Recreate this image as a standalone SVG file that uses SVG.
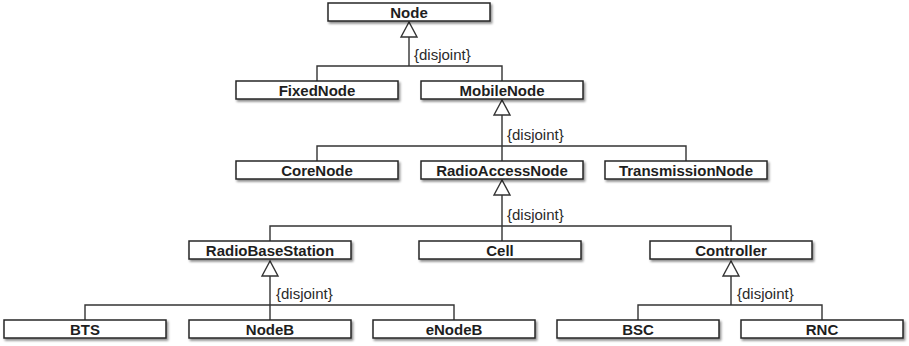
<svg xmlns="http://www.w3.org/2000/svg" width="909" height="346" viewBox="0 0 909 346">
  <style>
    .box { fill: #ffffff; stroke: #262626; stroke-width: 1.5; }
    .name { font-family: "Liberation Sans", Arial, sans-serif; font-weight: bold; font-size: 15px; fill: #1e1e1e; text-anchor: middle; }
    .line { fill: none; stroke: #333333; stroke-width: 1.4; }
    .tri { fill: #ffffff; stroke: #333333; stroke-width: 1.4; stroke-linejoin: miter; }
    .note { font-family: "Liberation Sans", Arial, sans-serif; font-size: 15px; fill: #2a2a2a; }
  </style>
  <defs>
    <filter id="shadow" x="-10%" y="-40%" width="120%" height="190%">
      <feDropShadow dx="1.5" dy="2" stdDeviation="1.3" flood-color="#000000" flood-opacity="0.45"/>
    </filter>
  </defs>

  <!-- generalization connectors -->
  <g id="connectors">
    <!-- Node -> FixedNode, MobileNode -->
    <path class="line" d="M409 37 V66 M317 81 V66 H502 V81"/>
    <polygon class="tri" points="409,22 401,37 417,37"/>
    <text class="note" x="414" y="60">{disjoint}</text>

    <!-- MobileNode -> CoreNode, RadioAccessNode, TransmissionNode -->
    <path class="line" d="M502 115 V161 M317 161 V146 H686 V161"/>
    <polygon class="tri" points="502,100 494,115 510,115"/>
    <text class="note" x="507" y="140">{disjoint}</text>

    <!-- RadioAccessNode -> RadioBaseStation, Cell, Controller -->
    <path class="line" d="M502 195 V241 M270 241 V226 H731 V241"/>
    <polygon class="tri" points="502,180 494,195 510,195"/>
    <text class="note" x="507" y="220">{disjoint}</text>

    <!-- RadioBaseStation -> BTS, NodeB, eNodeB -->
    <path class="line" d="M270 276 V320 M85 320 V305 H454 V320"/>
    <polygon class="tri" points="270,261 262,276 278,276"/>
    <text class="note" x="276" y="299">{disjoint}</text>

    <!-- Controller -> BSC, RNC -->
    <path class="line" d="M731 276 V305 M638 320 V305 H822 V320"/>
    <polygon class="tri" points="731,261 723,276 739,276"/>
    <text class="note" x="737" y="299">{disjoint}</text>
  </g>

  <g id="node-Node">
    <rect class="box" x="328" y="3" width="162" height="18" filter="url(#shadow)"/>
    <text class="name" x="409" y="17.5">Node</text>
  </g>
  <g id="node-FixedNode">
    <rect class="box" x="236" y="81" width="162" height="18" filter="url(#shadow)"/>
    <text class="name" x="317" y="95.5">FixedNode</text>
  </g>
  <g id="node-MobileNode">
    <rect class="box" x="421" y="81" width="162" height="18" filter="url(#shadow)"/>
    <text class="name" x="502" y="95.5">MobileNode</text>
  </g>
  <g id="node-CoreNode">
    <rect class="box" x="236" y="161" width="162" height="18" filter="url(#shadow)"/>
    <text class="name" x="317" y="175.5">CoreNode</text>
  </g>
  <g id="node-RadioAccessNode">
    <rect class="box" x="421" y="161" width="162" height="18" filter="url(#shadow)"/>
    <text class="name" x="502" y="175.5">RadioAccessNode</text>
  </g>
  <g id="node-TransmissionNode">
    <rect class="box" x="605" y="161" width="162" height="18" filter="url(#shadow)"/>
    <text class="name" x="686" y="175.5">TransmissionNode</text>
  </g>
  <g id="node-RadioBaseStation">
    <rect class="box" x="189" y="241" width="162" height="18" filter="url(#shadow)"/>
    <text class="name" x="270" y="255.5">RadioBaseStation</text>
  </g>
  <g id="node-Cell">
    <rect class="box" x="419" y="241" width="162" height="18" filter="url(#shadow)"/>
    <text class="name" x="500" y="255.5">Cell</text>
  </g>
  <g id="node-Controller">
    <rect class="box" x="650" y="241" width="162" height="18" filter="url(#shadow)"/>
    <text class="name" x="731" y="255.5">Controller</text>
  </g>
  <g id="node-BTS">
    <rect class="box" x="4" y="320" width="162" height="18" filter="url(#shadow)"/>
    <text class="name" x="85" y="334.5">BTS</text>
  </g>
  <g id="node-NodeB">
    <rect class="box" x="189" y="320" width="162" height="18" filter="url(#shadow)"/>
    <text class="name" x="270" y="334.5">NodeB</text>
  </g>
  <g id="node-eNodeB">
    <rect class="box" x="373" y="320" width="162" height="18" filter="url(#shadow)"/>
    <text class="name" x="454" y="334.5">eNodeB</text>
  </g>
  <g id="node-BSC">
    <rect class="box" x="557" y="320" width="162" height="18" filter="url(#shadow)"/>
    <text class="name" x="638" y="334.5">BSC</text>
  </g>
  <g id="node-RNC">
    <rect class="box" x="741" y="320" width="162" height="18" filter="url(#shadow)"/>
    <text class="name" x="822" y="334.5">RNC</text>
  </g>
</svg>
